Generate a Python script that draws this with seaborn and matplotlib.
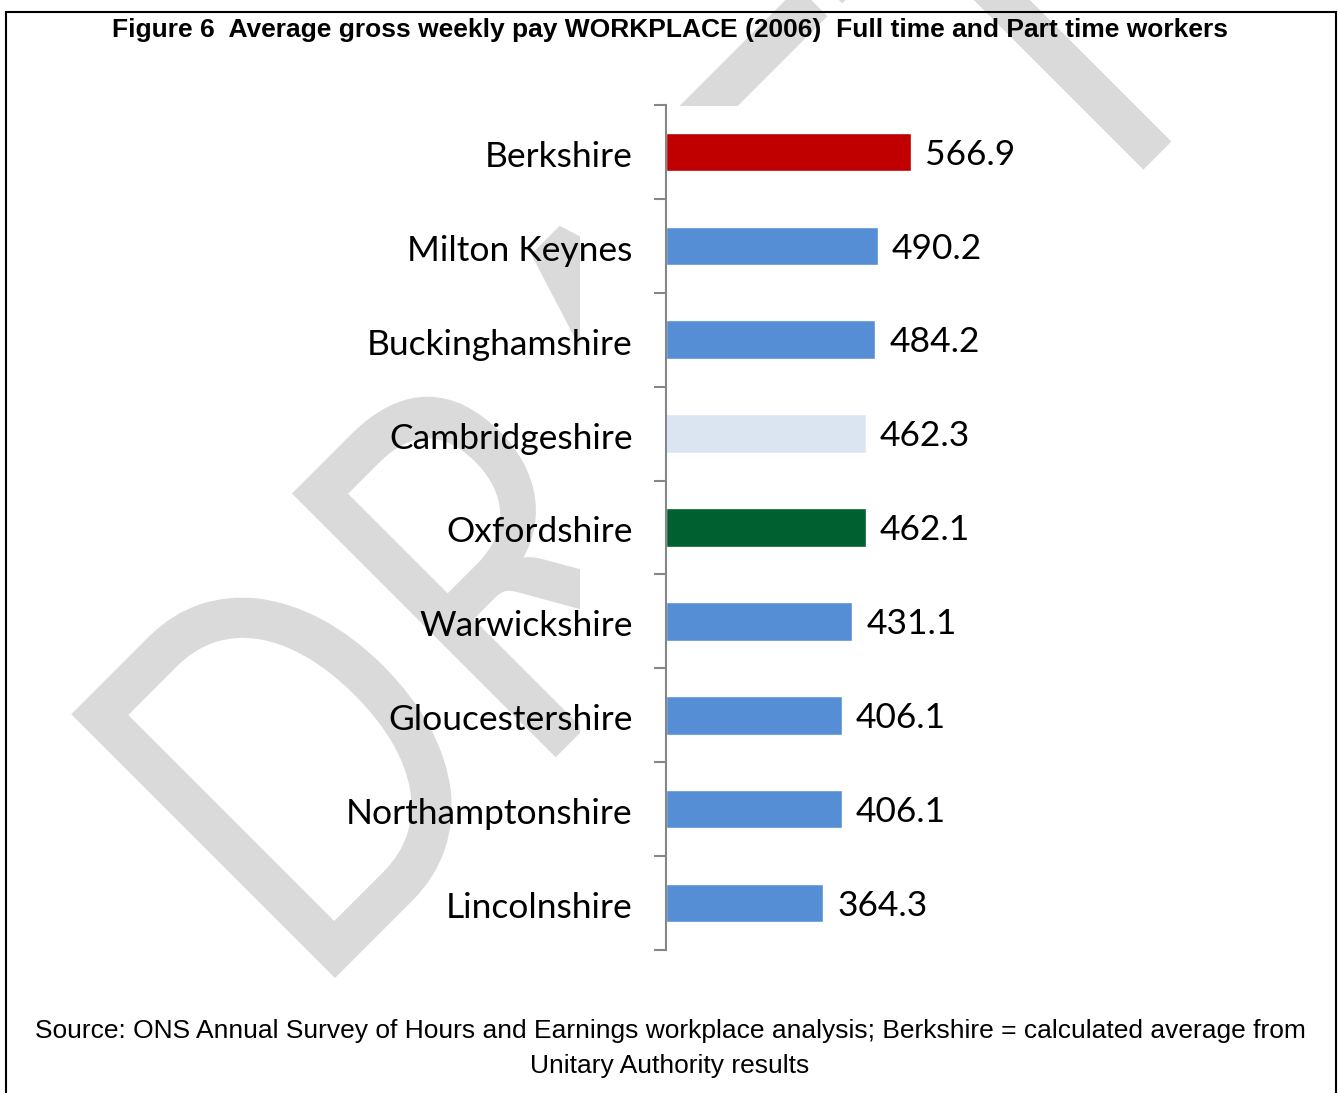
import matplotlib
matplotlib.use("Agg")
import matplotlib.pyplot as plt
import seaborn as sns
import pandas as pd
from matplotlib.patches import Rectangle, PathPatch
from matplotlib.textpath import TextPath
from matplotlib.font_manager import FontProperties
from matplotlib.transforms import Affine2D

# --- Data ---
counties = ["Berkshire", "Milton Keynes", "Buckinghamshire", "Cambridgeshire",
            "Oxfordshire", "Warwickshire", "Gloucestershire", "Northamptonshire",
            "Lincolnshire"]
weekly_pay = [566.9, 490.2, 484.2, 462.3, 462.1, 431.1, 406.1, 406.1, 364.3]
bar_colors = ["#C00000", "#558ED5", "#558ED5", "#DBE5F1", "#00602F",
              "#558ED5", "#558ED5", "#558ED5", "#558ED5"]

title = "Figure 6  Average gross weekly pay WORKPLACE (2006)  Full time and Part time workers"
source_1 = "Source: ONS Annual Survey of Hours and Earnings workplace analysis; Berkshire = calculated average from"
source_2 = "Unitary Authority results"

df = pd.DataFrame({"county": counties, "pay": weekly_pay})

sns.set_style("white")
plt.rcParams["font.family"] = ["Lato", "DejaVu Sans"]
plt.rcParams["text.color"] = "black"
plt.rcParams["ytick.labelcolor"] = "black"

W, H = 1338, 1093
fig = plt.figure(figsize=(W / 100, H / 100), dpi=100)
px = Affine2D().scale(1 / 100) + fig.dpi_scale_trans  # pixel -> display

# --- DRAFT watermark (stretched text, 45 deg) ---
tp = TextPath((0, 0), "DRAFT", size=1, prop=FontProperties(family="Lato"))
ext = tp.get_extents()
sy = 373 / 0.7165          # cap height ~373 px
sx = 1159 / (ext.x1 - 0.29 - ext.x0)
wm = Affine2D().translate(-ext.x0, 0).scale(sx, sy).rotate_deg(45).translate(335, H - 978)
fig.patches.append(PathPatch(tp, transform=wm + px, facecolor="#dadada",
                             edgecolor="none", zorder=-10))
# white plot area that hides part of the watermark
fig.patches.append(Rectangle((580, H - 955), 460, 955 - 106, transform=px,
                             facecolor="white", edgecolor="none", zorder=-9))

# plot area: axis line at x=666px, from y=105px to y=950px
ax = fig.add_axes([666 / W, 1 - 950 / H, 534 / W, 845 / H])
ax.set_facecolor("none")

sns.barplot(data=df, x="pay", y="county", hue="county", palette=bar_colors,
            orient="h", width=0.41, legend=False, ax=ax, saturation=1)

ax.set_xlim(0, 1235.6)
ax.set_ylim(len(counties) - 0.5, -0.5)
ax.set_xlabel("")
ax.set_ylabel("")
ax.xaxis.set_visible(False)
for s in ["top", "right", "bottom"]:
    ax.spines[s].set_visible(False)
ax.spines["left"].set_color("#868686")
ax.spines["left"].set_linewidth(1.5)

# category boundary ticks
ax.set_yticks([i - 0.5 for i in range(len(counties) + 1)], minor=True)
ax.tick_params(axis="y", which="minor", left=True, length=8.6, width=1.5,
               color="#868686", direction="out")
ax.tick_params(axis="y", which="major", length=0, pad=24, labelsize=25.5)
for lab in ax.get_yticklabels():
    lab.set_transform(lab.get_transform() + Affine2D().translate(0, -2))

for c in ax.containers:
    for t in ax.bar_label(c, fmt="%.1f", padding=10, fontsize=25.5):
        t.xyann = (10, -2)

fig.text(670 / W, 1 - 30 / H, title, ha="center", va="center",
         fontsize=19, fontweight="bold", family="Liberation Sans")
fig.text(670 / W, 1 - 1031 / H, source_1, ha="center", va="center",
         fontsize=19, family="Liberation Sans")
fig.text(670 / W, 1 - 1066 / H, source_2, ha="center", va="center",
         fontsize=19, family="Liberation Sans")

# outer frame
fig.patches.append(Rectangle((6, -20), 1330, H - 12 + 20, transform=px,
                             fill=False, edgecolor="black", linewidth=1.5, zorder=10))

fig.savefig("out.png", dpi=100)
